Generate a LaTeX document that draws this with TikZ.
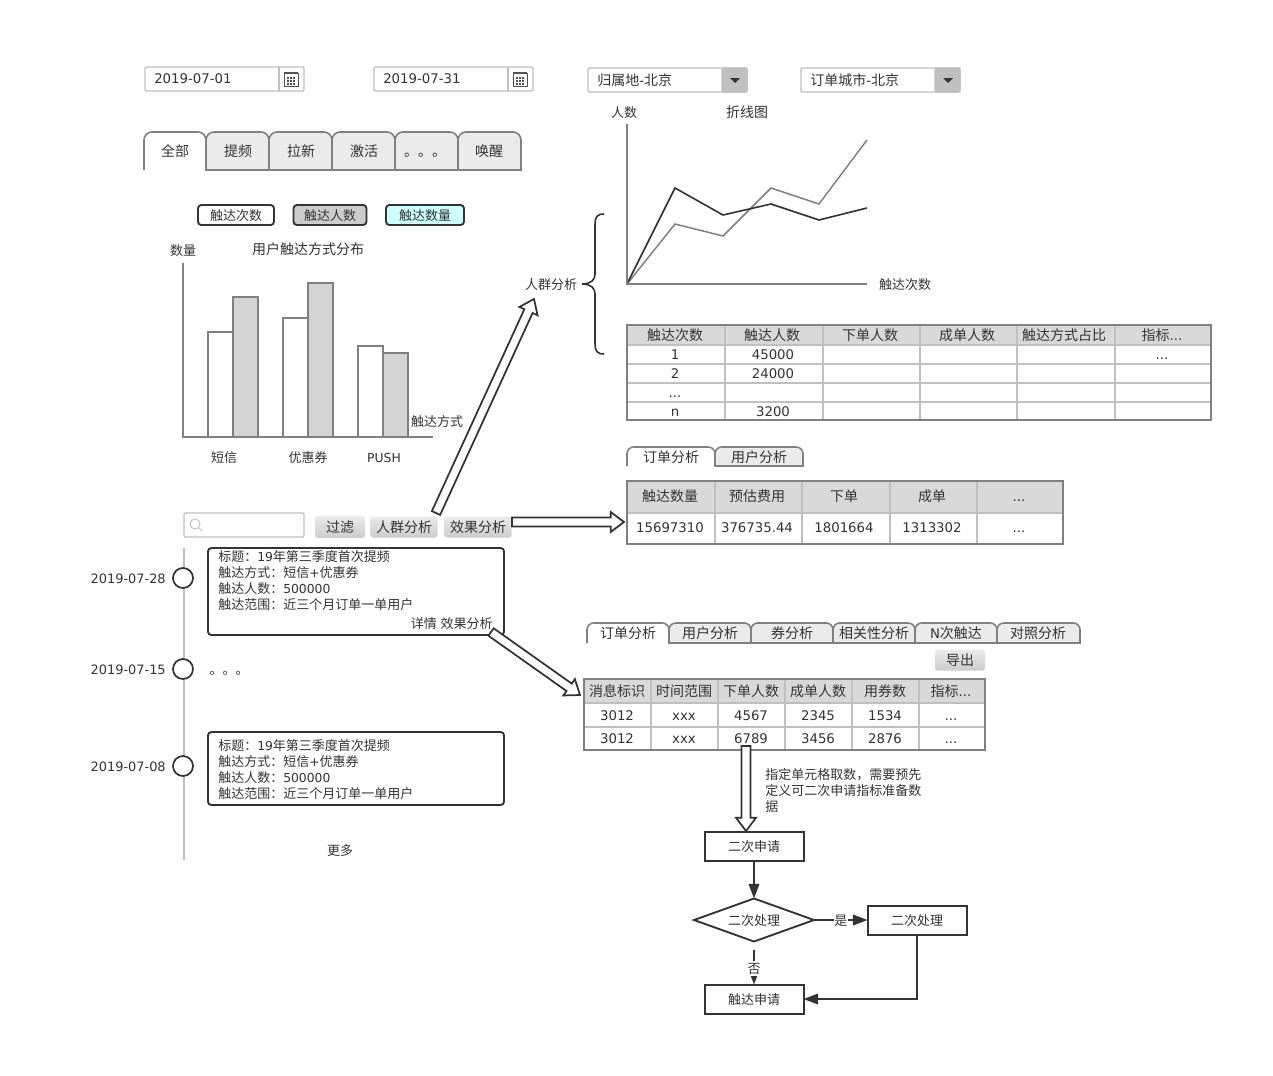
\documentclass[tikz,border=0pt]{standalone}
\usepackage{fontspec}
\setmainfont{DejaVu Sans}[Scale=.95]
\newfontfamily\cjk{Noto Sans CJK SC}
\usetikzlibrary{calc,shapes.geometric,arrows.meta}
% switch to the CJK font on its own
\XeTeXinterchartokenstate=1
\newXeTeXintercharclass\cjkclass
\count255="3000
\loop\XeTeXcharclass\count255=\cjkclass \ifnum\count255<"9FFF \advance\count255 1 \repeat
\count255="FF00
\loop\XeTeXcharclass\count255=\cjkclass \ifnum\count255<"FFEF \advance\count255 1 \repeat
\XeTeXinterchartoks 0 \cjkclass={\begingroup\cjk}
\XeTeXinterchartoks 4095 \cjkclass={\begingroup\cjk}
\XeTeXinterchartoks \cjkclass 0={\endgroup}
\XeTeXinterchartoks \cjkclass 4095={\endgroup}
\newcommand{\etcdots}{...}
\newcommand{\wcolon}{^^^^ff1a}
\newcommand{\wcomma}{^^^^ff0c}
\definecolor{inkdark}{HTML}{333333}
\definecolor{axisgray}{HTML}{808080}
\definecolor{fieldgray}{HTML}{C0C0C0}
\definecolor{tabfill}{HTML}{EBEBEB}
\definecolor{headfill}{HTML}{D9D9D9}
\definecolor{pillgray}{HTML}{CCCCCC}
\definecolor{pillcyan}{HTML}{CCFFFF}
\definecolor{barfill}{HTML}{D4D4D4}
\tikzset{
  boxsize/.style 2 args={minimum width=#1*.75pt,minimum height=#2*.75pt,inner sep=0pt,outer sep=0pt},
  label/.style={inner sep=0pt,text=inkdark,text height=8.9pt,text depth=1.3pt,font=\fontsize{10.5}{12}\selectfont},
  small/.style={inner sep=0pt,text=inkdark,text height=9.8pt,text depth=1.2pt,font=\fontsize{9.75}{12}\selectfont},
  multitext/.style={inner sep=0pt,text=inkdark,anchor=north west,align=left,font=\fontsize{9.75}{12}\selectfont},
  datetext/.style={small,font=\fontsize{10.2}{12}\selectfont},
  field/.style={draw=fieldgray,line width=1.1pt,fill=white,rounded corners=1pt},
  pill/.style={draw=inkdark,line width=1.4pt,rounded corners=2.5pt,small},
  btn/.style={rounded corners=2pt,top color=tabfill,bottom color=pillgray,label},
  axis/.style={draw=axisgray,line width=1.2pt},
  grid/.style={draw=fieldgray,line width=1.1pt},
  tab/.style={draw=axisgray,line width=1.2pt,fill=tabfill},
  bar/.style={draw=axisgray,line width=1.1pt},
  card/.style={draw=inkdark,line width=1.4pt,rounded corners=2.5pt,fill=white},
  dot/.style={circle,draw=inkdark,line width=1.3pt,fill=white,minimum size=15pt,inner sep=0pt},
  flowbox/.style={draw=inkdark,line width=1.5pt,fill=white,boxsize={99}{29},small},
  decide/.style={diamond,aspect=2.8,draw=inkdark,line width=1.4pt,fill=white,boxsize={120}{43},small},
  flowarrow/.style={draw=inkdark,line width=1.3pt,-{Triangle[length=11pt,width=8pt]}},
  hollowarrow/.style={draw=inkdark,line width=1.3pt,fill=white,line join=miter,to path={
    ($(\tikztostart)!3.4pt!90:(\tikztotarget)$)
    -- ($(\tikztotarget)!10pt!(\tikztostart)!3.4pt!90:(\tikztotarget)$)
    -- ($(\tikztotarget)!10pt!(\tikztostart)!7.5pt!90:(\tikztotarget)$)
    -- (\tikztotarget)
    -- ($(\tikztotarget)!10pt!(\tikztostart)!7.5pt!-90:(\tikztotarget)$)
    -- ($(\tikztotarget)!10pt!(\tikztostart)!3.4pt!-90:(\tikztotarget)$)
    -- ($(\tikztostart)!3.4pt!-90:(\tikztotarget)$) -- cycle}},
  calicon/.pic={
    \draw[inkdark!85,line width=.5pt] (-7,-6) rectangle (7,7);
    \draw[inkdark!85,line width=.8pt] (-7,-6) -- (7,-6);
    \foreach \cx in {-3,0,3}
      \foreach \cy in {-1,2,5}
        \fill[inkdark!85] (\cx-.8,\cy-.8) rectangle (\cx+.8,\cy+.8);
  }
}
\begin{document}
\begin{tikzpicture}[x=.75pt,y=-.75pt]
  \useasboundingbox (0,0) rectangle (1273,1075);
  % date fields
  \foreach \x/\t in {145/2019-07-01,374/2019-07-31} {
    \node[field,boxsize={159}{24},anchor=north west] (date\x) at (\x,67) {};
    \draw[grid] (\x+134,67) -- (\x+134,91);
    \node[label,anchor=west] (dateText\x) at (\x+9,78) {\t};
    \pic at (\x+146,79) {calicon};
  }
  % drop downs
  \foreach \x/\t in {588/归属地-北京,801/订单城市-北京} {
    \node[field,boxsize={159}{24},anchor=north west] (drop\x) at (\x,68) {};
    \node[field,fill=fieldgray,boxsize={25}{24},anchor=north west] (dropBtn\x) at (\x+134,68) {};
    \fill[inkdark] (\x+142,78) -- (\x+152,78) -- (\x+147,83) -- cycle;
    \node[label,anchor=west] (dropText\x) at (\x+9,80) {\t};
  }
  % tabs over the bar chart
  \foreach \a/\b/\c/\t in {206/269/238/提频,269/332/301/拉新,332/395/364/激活,395/458/425/。。。,458/521/489/唤醒} {
    \draw[tab] (\a,170) [rounded corners=6pt] -- (\a,132) -- (\b,132) [sharp corners] -- (\b,170) -- cycle;
    \node[label] (tab\a) at (\c,151) {\t};
  }
  \draw[tab,fill=white] (144,170) [rounded corners=6pt] -- (144,132) -- (206,132) [sharp corners] -- (206,170);
  \node[label] (tabAll) at (175,151) {全部};
  \node[pill,boxsize={76}{20}] (pillTimes) at (236,215) {触达次数};
  \node[pill,fill=pillgray,boxsize={73}{20}] (pillPeople) at (330,215) {触达人数};
  \node[pill,fill=pillcyan,boxsize={78}{20}] (pillCount) at (425,215) {触达数量};
  % bar chart
  \node[small] (barY) at (183,250) {数量};
  \node[label] (barTitle) at (308,249) {用户触达方式分布};
  \foreach \a/\b/\c in {208/332/white,233/297/barfill,283/318/white,308/283/barfill,358/346/white,383/353/barfill}
    \draw[bar,fill=\c] (\a,\b) rectangle (\a+25,437);
  \draw[axis] (183,263) -- (183,437) -- (433,437);
  \node[small] (barX) at (437,421) {触达方式};
  \foreach \x/\t in {224/短信,308/优惠券,384/PUSH}
    \node[small] (barName\x) at (\x,457) {\t};
  % line chart
  \node[small] (lineY) at (624,112) {人数};
  \node[label] (lineTitle) at (747,112) {折线图};
  \node[small] (lineX) at (905,284) {触达次数};
  \draw[axisgray,line width=1.1pt] (627,284) -- (675,224) -- (723,236) -- (771,188) -- (819,204) -- (867,140);
  \draw[inkdark,line width=1.2pt] (627,284) -- (675,188) -- (723,215) -- (771,204) -- (819,220) -- (867,208);
  \draw[axis] (627,124) -- (627,284) -- (867,284);
  % brace
  \node[small] (crowdLabel) at (551,284) {人群分析};
  \draw[inkdark,line width=1.2pt] (604,214) .. controls (597,214) and (595,217) .. (595,224) -- (595,274)
    .. controls (595,280) and (591,284) .. (582,284) .. controls (591,284) and (595,288) .. (595,294)
    -- (595,344) .. controls (595,351) and (597,354) .. (604,354);
  % table of crowd analysis
  \fill[headfill] (627,325) rectangle (1211,345);
  \foreach \y in {345,364,383,402}
    \draw[grid] (627,\y) -- (1211,\y);
  \foreach \x in {725,823,920,1017,1115}
    \draw[grid] (\x,325) -- (\x,420);
  \draw[axis] (627,325) rectangle (1211,420);
  \foreach \x/\t in {675/触达次数,772/触达人数,870/下单人数,967/成单人数,1064/触达方式占比,1162/指标\etcdots}
    \node[label] (crowdHead\x) at (\x,335) {\t};
  \foreach \x/\y/\t in {675/354/1,773/354/45000,1162/354/\etcdots,675/373/2,773/373/24000,675/392/\etcdots,675/411/n,773/411/3200}
    \node[label] (crowd\x\y) at (\x,\y) {\t};
  % tabs and table of the effect
  \draw[tab] (715,466) [rounded corners=5pt] -- (715,447) -- (803,447) [sharp corners] -- (803,466) -- cycle;
  \draw[tab,fill=white] (627,466) [rounded corners=5pt] -- (627,447) -- (715,447) [sharp corners] -- (715,466);
  \node[label] (effTabA) at (671,457) {订单分析};
  \node[label] (effTabB) at (759,457) {用户分析};
  \fill[headfill] (627,481) rectangle (1063,513);
  \draw[grid] (627,513) -- (1063,513);
  \foreach \x in {715,802,890,977}
    \draw[grid] (\x,481) -- (\x,544);
  \draw[axis] (627,481) rectangle (1063,544);
  \foreach \x/\a/\b in {670/触达数量/15697310,757/预估费用/376735.44,844/下单/1801664,932/成单/1313302,1019/\etcdots/\etcdots} {
    \node[label] (effHead\x) at (\x,496) {\a};
    \node[label] (effCell\x) at (\x,527) {\b};
  }
  % search and buttons
  \node[field,boxsize={120}{24}] (search) at (244,525) {};
  \draw[fieldgray,line width=.7pt] (195,524) circle [radius=5] (199,528) -- (202,531);
  \node[btn,boxsize={50}{22}] (btnFilter) at (340,527) {过滤};
  \node[btn,boxsize={67}{21}] (btnCrowd) at (404,527) {人群分析};
  \node[btn,boxsize={67}{21}] (btnEffect) at (478,527) {效果分析};
  % time line
  \draw[grid] (184,548) -- (184,860);
  \foreach \y/\t in {578/2019-07-28,669/2019-07-15,766/2019-07-08} {
    \node[dot] (dot\y) at (183,\y) {};
    \node[datetext,anchor=east] (dotDate\y) at (166,\y) {\t};
  }
  \node[card,boxsize={296}{87},anchor=north west] (cardTop) at (208,548) {};
  \node[multitext] (cardTopText) at (218,550) {标题\wcolon 19年第三季度首次提频\\触达方式\wcolon 短信+优惠券\\触达人数\wcolon 500000\\触达范围\wcolon 近三个月订单一单用户};
  \node[small,anchor=east] (cardTopLink) at (493,623) {详情 效果分析};
  \node[small] (cardDots) at (229,669) {。。。};
  \node[card,boxsize={296}{73},anchor=north west] (cardEnd) at (208,732) {};
  \node[multitext] (cardEndText) at (218,739) {标题\wcolon 19年第三季度首次提频\\触达方式\wcolon 短信+优惠券\\触达人数\wcolon 500000\\触达范围\wcolon 近三个月订单一单用户};
  \node[small] (more) at (340,850) {更多};
  % tabs and table of the message
  \foreach \a/\b in {669/751,751/833,833/915,915/997,997/1080}
    \draw[tab] (\a,643) [rounded corners=5pt] -- (\a,623) -- (\b,623) [sharp corners] -- (\b,643) -- cycle;
  \draw[tab,fill=white] (587,643) [rounded corners=5pt] -- (587,623) -- (669,623) [sharp corners] -- (669,643);
  \foreach \x/\t in {628/订单分析,710/用户分析,792/券分析,874/相关性分析,956/N次触达,1038/对照分析}
    \node[label] (msgTab\x) at (\x,633) {\t};
  \node[btn,boxsize={50}{21}] (btnExport) at (960,660) {导出};
  \fill[headfill] (584,679) rectangle (985,703);
  \foreach \y in {703,727}
    \draw[grid] (584,\y) -- (985,\y);
  \foreach \x in {651,718,785,852,919}
    \draw[grid] (\x,679) -- (\x,750);
  \draw[axis] (584,679) rectangle (985,750);
  \foreach \x/\a/\b/\c in {617/消息标识/3012/3012,684/时间范围/xxx/xxx,751/下单人数/4567/6789,818/成单人数/2345/3456,885/用券数/1534/2876,951/指标\etcdots/\etcdots/\etcdots} {
    \node[label] (msgHead\x) at (\x,691) {\a};
    \node[label] (msgA\x) at (\x,715) {\b};
    \node[label] (msgB\x) at (\x,738) {\c};
  }
  \node[multitext] (msgNote) at (765,768) {指定单元格取数\wcomma 需要预先\\定义可二次申请指标准备数\\据};
  % flow
  \node[flowbox] (applyBox) at (754,846) {二次申请};
  \node[decide] (decideBox) at (754,920) {二次处理};
  \node[flowbox] (handleBox) at (917,920) {二次处理};
  \node[flowbox] (touchBox) at (754,999) {触达申请};
  \draw[flowarrow] (applyBox) -- (decideBox);
  \draw[flowarrow] (decideBox) -- node[small,fill=white,inner xsep=.5pt] (yesLabel) {是} (handleBox);
  \draw[flowarrow,shorten <=6pt] (decideBox) -- node[small,fill=white,inner xsep=.5pt,pos=.62] (noLabel) {否} (touchBox);
  \draw[flowarrow] (handleBox) |- (touchBox);
  % hollow arrows
  \coordinate (crowdTail) at (436,513);
  \coordinate (crowdTip) at (534,299);
  \coordinate (effectTail) at (512,522);
  \coordinate (effectTip) at (624,522);
  \coordinate (linkTail) at (491,632);
  \coordinate (linkTip) at (580,695);
  \coordinate (msgTail) at (746,746);
  \coordinate (msgTip) at (746,831);
  \draw[hollowarrow] (crowdTail) to (crowdTip);
  \draw[hollowarrow] (effectTail) to (effectTip);
  \draw[hollowarrow] (linkTail) to (linkTip);
  \draw[hollowarrow] (msgTail) to (msgTip);
\end{tikzpicture}
\end{document}
